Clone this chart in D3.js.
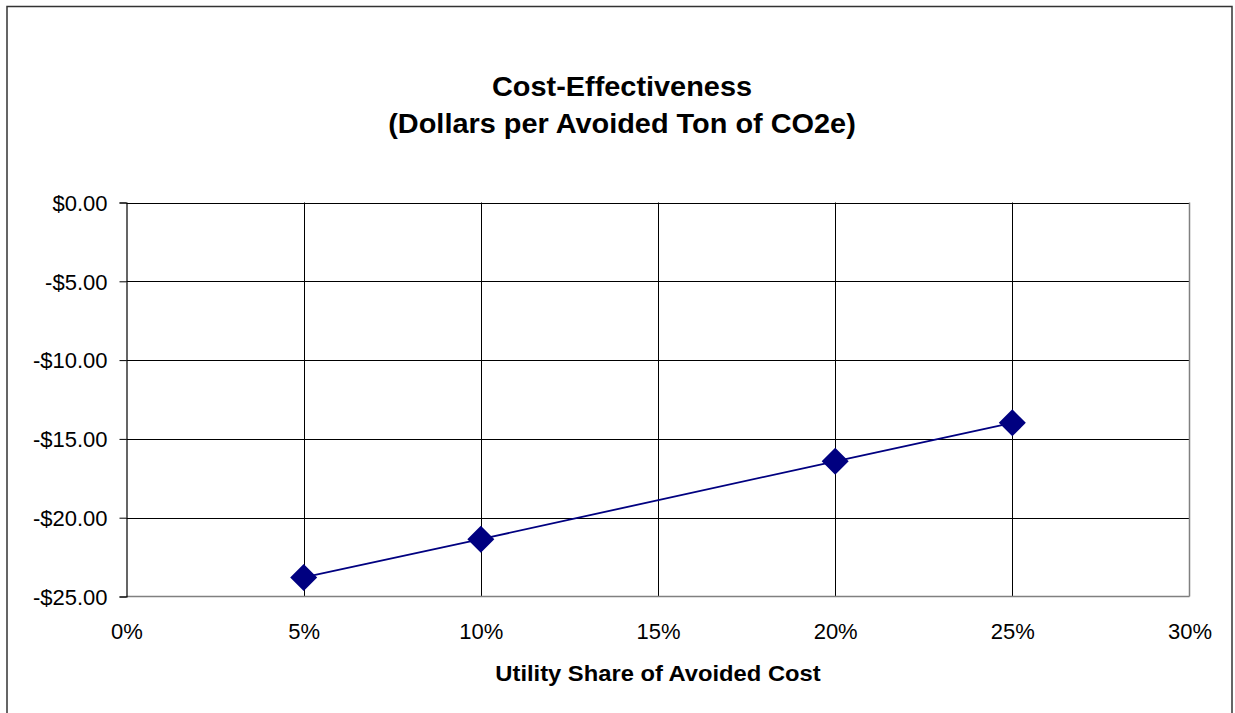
<!DOCTYPE html>
<html><head><meta charset="utf-8">
<script src="https://cdn.jsdelivr.net/npm/d3@7"></script>
<style>
html,body{margin:0;padding:0;background:#fff;}
text{font-family:"Liberation Sans",Arial,sans-serif;fill:#000;}
</style></head>
<body>
<svg id="c" width="1235" height="713"></svg>
<script>
const shares = [0.05, 0.10, 0.20, 0.25];
const costs = [-23.79, -21.36, -16.42, -13.98];
const xTicks = [0, 0.05, 0.10, 0.15, 0.20, 0.25, 0.30];
const yTicks = [0, -5, -10, -15, -20, -25];
const titleLines = ["Cost-Effectiveness", "(Dollars per Avoided Ton of CO2e)"];
const xTitle = "Utility Share of Avoided Cost";

const svg = d3.select("#c");
const m = {left:126.5, top:202.5, right:1189.5, bottom:596.5};

svg.append("rect").attr("x",7).attr("y",6.5).attr("width",1225).attr("height",720)
  .attr("fill","#fff").attr("stroke","#333").attr("stroke-width",1.5);

const x = d3.scaleLinear().domain([0,0.30]).range([m.left,m.right]);
const y = d3.scaleLinear().domain([-25,0]).range([m.bottom,m.top]);

// gridlines
const g = svg.append("g");
g.selectAll(".vg").data(xTicks.filter(t=>t>0 && t<0.30)).join("line")
  .attr("x1",d=>Math.round(x(d))+0.5).attr("x2",d=>Math.round(x(d))+0.5)
  .attr("y1",m.top).attr("y2",m.bottom).attr("stroke","#000").attr("stroke-width",1);
g.selectAll(".hg").data(yTicks.filter(t=>t>-25)).join("line")
  .attr("x1",m.left).attr("x2",m.right)
  .attr("y1",d=>Math.round(y(d))+0.5).attr("y2",d=>Math.round(y(d))+0.5)
  .attr("stroke","#000").attr("stroke-width",1);
// plot border right & bottom (grey)
g.append("line").attr("x1",m.right).attr("x2",m.right).attr("y1",m.top).attr("y2",m.bottom)
  .attr("stroke","#808080").attr("stroke-width",1.5);
g.append("line").attr("x1",m.left).attr("x2",m.right).attr("y1",m.bottom).attr("y2",m.bottom)
  .attr("stroke","#808080").attr("stroke-width",1.5);

// y axis
const yAxis = d3.axisLeft(y).tickValues(yTicks).tickSize(7).tickPadding(12)
  .tickFormat(d=> (d<0?"-":"") + "$" + Math.abs(d).toFixed(2));
const ya = svg.append("g").attr("transform",`translate(${m.left},0)`).call(yAxis);
ya.select(".domain").attr("stroke","#000").attr("stroke-width",1.2);
ya.selectAll(".tick line").attr("stroke","#000");
ya.selectAll(".tick text").attr("font-size",22).attr("fill","#000")
  .attr("font-family","Liberation Sans, Arial, sans-serif").attr("dy","0.35em");

// x axis labels
const xAxis = d3.axisBottom(x).tickValues(xTicks).tickSize(0).tickPadding(27)
  .tickFormat(d=>Math.round(d*100)+"%");
const xa = svg.append("g").attr("transform",`translate(0,${m.bottom})`).call(xAxis);
xa.select(".domain").remove();
xa.selectAll(".tick text").attr("font-size",22).attr("fill","#000")
  .attr("font-family","Liberation Sans, Arial, sans-serif");

// line + markers
const data = shares.map((s,i)=>({s, c:costs[i]}));
svg.append("path").datum(data)
  .attr("d", d3.line().x(d=>x(d.s)).y(d=>y(d.c)))
  .attr("fill","none").attr("stroke","#000080").attr("stroke-width",1.8);
svg.selectAll(".mk").data(data).join("path")
  .attr("transform",d=>`translate(${x(d.s)},${y(d.c)})`)
  .attr("d","M0,-13.5L13.5,0L0,13.5L-13.5,0Z")
  .attr("fill","#000080");

// titles
svg.selectAll(".tt").data(titleLines).join("text")
  .attr("transform",(d,i)=>`translate(622,${96+i*37}) scale(1.07,1)`)
  .attr("text-anchor","middle").attr("font-size",27).attr("font-weight","bold").text(d=>d);
svg.append("text").attr("transform",`translate(658,681) scale(1.08,1)`)
  .attr("text-anchor","middle").attr("font-size",22).attr("font-weight","bold").text(xTitle);
</script>
</body></html>
